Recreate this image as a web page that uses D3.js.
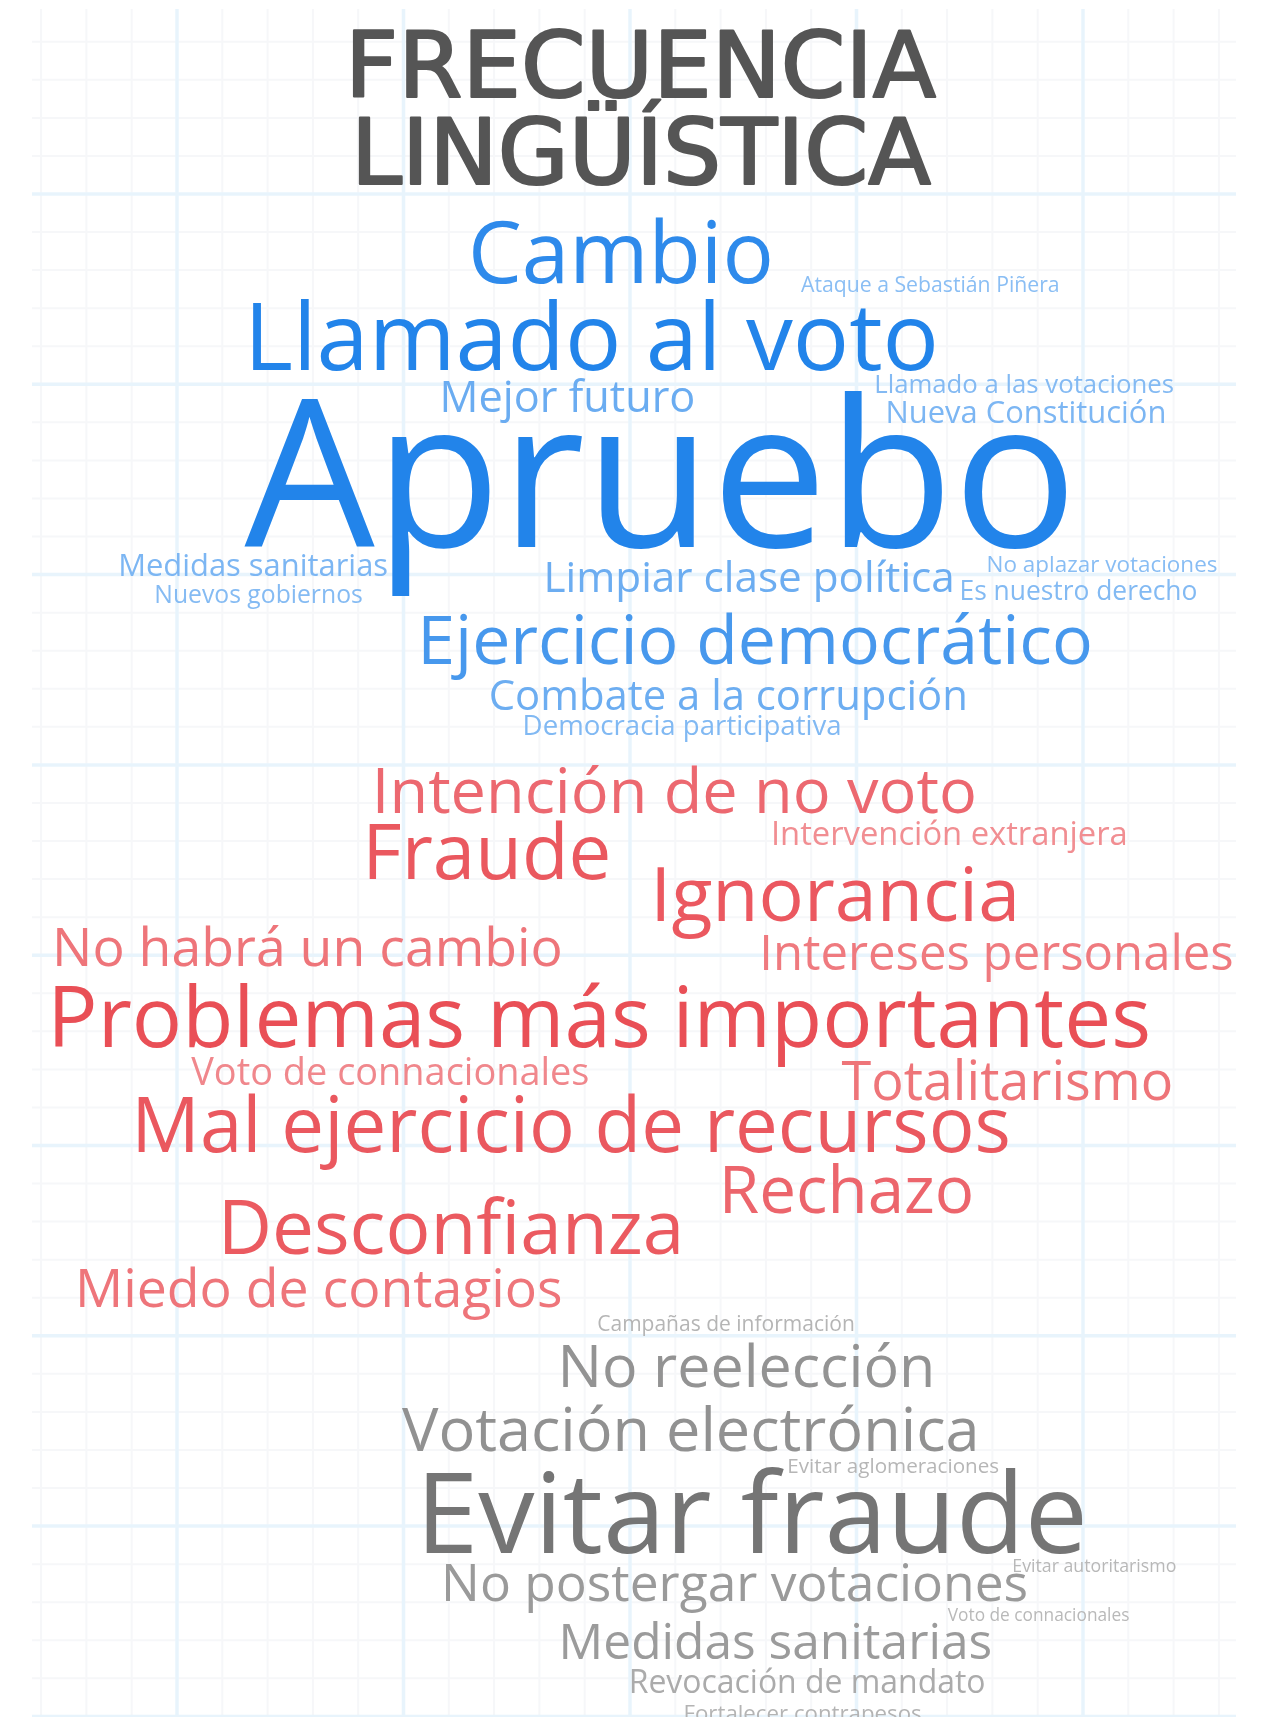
<!DOCTYPE html>
<html lang="es">

<head>
    <meta charset="UTF-8">
    <meta name="viewport" content="width=device-width, initial-scale=1.0">
    <script src="https://d3js.org/d3.v7.min.js"></script>
    <title>Frecuencia lingüística</title>
    <style>
        body { margin: 0; background: #fff; }
    </style>
</head>

<body>
    <div id="my_chart"></div>
    <script>
        // Frecuencias (escala relativa, Apruebo = 100)
        var aprueboWords = ["Apruebo", "Llamado al voto", "Cambio", "Ejercicio democrático", "Mejor futuro",
            "Limpiar clase política", "Combate a la corrupción", "Medidas sanitarias", "Nueva Constitución",
            "Democracia participativa", "Es nuestro derecho", "Llamado a las votaciones", "Nuevos gobiernos",
            "No aplazar votaciones", "Ataque a Sebastián Piñera"];
        var aprueboValues = [100, 45.5, 41.5, 33, 21, 20.5, 20.3, 15, 15, 13.4, 12.8, 12.5, 12, 10.9, 10.3];

        var rechazoWords = ["Problemas más importantes", "Mal ejercicio de recursos", "Fraude", "Ignorancia",
            "Desconfianza", "Rechazo", "Intención de no voto", "Totalitarismo", "No habrá un cambio",
            "Miedo de contagios", "Intereses personales", "Voto de connacionales", "Intervención extranjera"];
        var rechazoValues = [40.6, 37, 37, 36.6, 36.3, 31.8, 30.6, 26.2, 26, 26, 23.8, 18.4, 15.9];

        var propuestaWords = ["Evitar fraude", "Votación electrónica", "No reelección", "No postergar votaciones",
            "Medidas sanitarias", "Revocación de mandato", "Fortalecer contrapesos", "Campañas de información",
            "Evitar aglomeraciones", "Voto de connacionales", "Evitar autoritarismo"];
        var propuestaValues = [54.6, 29.7, 28.7, 25, 24.1, 15.5, 10.8, 10.2, 10, 8.4, 8.6];

        // Posición de cada palabra en celdas de la cuadrícula [columna centro, fila línea base]
        var aprueboLayout = [[10.68, 9.27], [9.15, 4.62], [9.80, 2.34], [12.76, 12.35], [8.62, 5.73],
            [12.63, 10.46], [12.17, 13.56], [1.68, 10.04], [18.74, 6.02], [11.15, 14.21], [19.90, 10.67],
            [18.70, 5.23], [1.80, 10.75], [20.42, 9.93], [16.63, 2.57]];
        var rechazoLayout = [[9.32, 22.41], [8.70, 25.17], [6.84, 18.0], [14.53, 19.10], [6.05, 27.85],
            [14.78, 26.77], [10.98, 16.26], [18.33, 23.80], [2.88, 20.28], [3.13, 29.24], [18.09, 20.39],
            [4.71, 23.41], [17.05, 17.10]];
        var propuestaLayout = [[12.69, 35.71], [11.34, 33.03], [12.57, 31.35], [12.31, 36.97], [13.21, 38.49],
            [13.91, 39.39], [13.81, 40.12], [12.12, 29.87], [15.81, 33.60], [19.02, 37.49], [20.25, 36.21]];

        var titleLines = ["FRECUENCIA", "LINGÜÍSTICA"];

        var width = 1273,
            height = 1717;

        var svg = d3.select("#my_chart")
            .append("svg")
            .attr("width", width)
            .attr("height", height);

        var defs = svg.append("defs");
        defs.append("clipPath").attr("id", "gridClip")
            .append("rect")
            .attr("x", 32).attr("y", 9)
            .attr("width", 1204).attr("height", 1708);
        defs.append("filter").attr("id", "soft")
            .append("feGaussianBlur").attr("stdDeviation", 0.7);

        // Grid scales: 1 unit = one small cell
        var x = d3.scaleLinear().domain([0, 20]).range([177, 1083]);
        var y = d3.scaleLinear().domain([0, 40]).range([194, 1716.4]);

        var grid = svg.append("g").attr("clip-path", "url(#gridClip)");
        var cols = d3.range(-4, 25),
            rows = d3.range(-5, 42);

        grid.selectAll(".vminor")
            .data(cols.filter(function (c) { return c % 5 !== 0; }))
            .enter().append("line")
            .attr("x1", function (d) { return x(d); })
            .attr("x2", function (d) { return x(d); })
            .attr("y1", 0).attr("y2", height)
            .attr("stroke", "#f6f7f9").attr("stroke-width", 2);
        grid.selectAll(".hminor")
            .data(rows.filter(function (r) { return r % 5 !== 0; }))
            .enter().append("line")
            .attr("y1", function (d) { return y(d); })
            .attr("y2", function (d) { return y(d); })
            .attr("x1", 0).attr("x2", width)
            .attr("stroke", "#f6f7f9").attr("stroke-width", 2);
        grid.selectAll(".vmajor")
            .data(cols.filter(function (c) { return c % 5 === 0; }))
            .enter().append("line")
            .attr("x1", function (d) { return x(d); })
            .attr("x2", function (d) { return x(d); })
            .attr("y1", 0).attr("y2", height)
            .attr("stroke", "#e8f4fc").attr("stroke-width", 3.5);
        grid.selectAll(".hmajor")
            .data(rows.filter(function (r) { return r % 5 === 0; }))
            .enter().append("line")
            .attr("y1", function (d) { return y(d); })
            .attr("y2", function (d) { return y(d); })
            .attr("x1", 0).attr("x2", width)
            .attr("stroke", "#e8f4fc").attr("stroke-width", 3.5);

        // Title
        svg.append("g")
            .attr("filter", "url(#soft)")
            .selectAll("text")
            .data(titleLines)
            .enter().append("text")
            .attr("x", function (d, i) { return i === 0 ? 345 : 351; })
            .attr("y", function (d, i) { return i === 0 ? 97 : 184; })
            .attr("textLength", function (d, i) { return i === 0 ? 591 : 580; })
            .attr("lengthAdjust", "spacingAndGlyphs")
            .style("font-family", "'DejaVu Sans', sans-serif")
            .style("font-size", "90px")
            .attr("fill", "#555555")
            .attr("stroke", "#555555")
            .attr("stroke-width", 2.2)
            .attr("stroke-linejoin", "round")
            .text(function (d) { return d; });

        // Word size and tint come from the frequency
        var fontSize = d3.scaleLinear().domain([0, 100]).range([0, 229 * 0.9]);
        var tint = d3.scaleLinear().domain([8, 45]).range([0.5, 1]).clamp(true);

        var groups = [
            { words: aprueboWords, values: aprueboValues, layout: aprueboLayout, color: "#2384ea" },
            { words: rechazoWords, values: rechazoValues, layout: rechazoLayout, color: "#e8444c" },
            { words: propuestaWords, values: propuestaValues, layout: propuestaLayout, color: "#747474" }
        ];

        var cloud = svg.append("g").attr("filter", "url(#soft)");

        groups.forEach(function (g) {
            var data = g.words.map(function (w, i) {
                return { text: w, value: g.values[i], pos: g.layout[i] };
            });
            cloud.append("g")
                .selectAll("text")
                .data(data)
                .enter().append("text")
                .attr("x", function (d) { return x(d.pos[0]); })
                .attr("y", function (d) { return y(d.pos[1]); })
                .attr("text-anchor", "middle")
                .style("font-family", "'Open Sans', 'Noto Sans', sans-serif")
                .style("font-size", function (d) { return fontSize(d.value) + "px"; })
                .attr("fill", function (d) { return d3.interpolateRgb("#ffffff", g.color)(tint(d.value)); })
                .text(function (d) { return d.text; });
        });

    </script>
</body>

</html>
